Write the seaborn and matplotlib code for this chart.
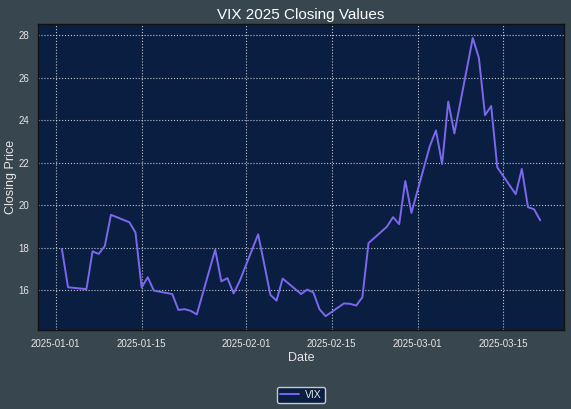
import matplotlib
matplotlib.use("Agg")
import matplotlib.pyplot as plt
import seaborn as sns
import pandas as pd

dates = [
    "2025-01-02", "2025-01-03", "2025-01-06", "2025-01-07", "2025-01-08", "2025-01-09",
    "2025-01-10", "2025-01-13", "2025-01-14", "2025-01-15", "2025-01-16", "2025-01-17",
    "2025-01-20", "2025-01-21", "2025-01-22", "2025-01-23", "2025-01-24", "2025-01-27",
    "2025-01-28", "2025-01-29", "2025-01-30", "2025-01-31", "2025-02-03", "2025-02-04",
    "2025-02-05", "2025-02-06", "2025-02-07", "2025-02-10", "2025-02-11", "2025-02-12",
    "2025-02-13", "2025-02-14", "2025-02-17", "2025-02-18", "2025-02-19", "2025-02-20",
    "2025-02-21", "2025-02-24", "2025-02-25", "2025-02-26", "2025-02-27", "2025-02-28",
    "2025-03-03", "2025-03-04", "2025-03-05", "2025-03-06", "2025-03-07", "2025-03-10",
    "2025-03-11", "2025-03-12", "2025-03-13", "2025-03-14", "2025-03-17", "2025-03-18",
    "2025-03-19", "2025-03-20", "2025-03-21",
]
closes = [
    17.93, 16.13, 16.04, 17.82, 17.70, 18.07,
    19.54, 19.19, 18.71, 16.12, 16.60, 15.97,
    15.81, 15.06, 15.10, 15.02, 14.85, 17.90,
    16.41, 16.56, 15.84, 16.43, 18.62, 17.21,
    15.77, 15.50, 16.54, 15.81, 16.02, 15.89,
    15.10, 14.77, 15.37, 15.35, 15.27, 15.66,
    18.21, 18.98, 19.43, 19.10, 21.13, 19.63,
    22.78, 23.51, 21.93, 24.87, 23.37, 27.86,
    26.92, 24.23, 24.66, 21.77, 20.51, 21.70,
    19.90, 19.80, 19.28,
]
tick_dates = ["2025-01-01", "2025-01-15", "2025-02-01", "2025-02-15", "2025-03-01", "2025-03-15"]

df = pd.DataFrame({"Date": pd.to_datetime(dates), "Close": closes})

FIG_BG = "#38464f"
AX_BG = "#0a1e42"
TXT = "#e6e6e6"

sns.set_theme(style="darkgrid")
plt.rcParams["font.family"] = ["Liberation Sans", "DejaVu Sans"]

fig = plt.figure(figsize=(5.71, 4.09), dpi=100, facecolor=FIG_BG)
ax = fig.add_axes([0.0665, 0.193, 0.9215, 0.748])
ax.set_facecolor(AX_BG)

sns.lineplot(data=df, x="Date", y="Close", ax=ax, color="#7b68ee", linewidth=1.4, label="VIX")

ax.grid(True, color="white", linestyle=":", linewidth=0.8, alpha=0.75)
for s in ax.spines.values():
    s.set_visible(True)
    s.set_color("#111111")
    s.set_linewidth(1.0)

ax.set_xticks(pd.to_datetime(tick_dates))
ax.set_xticklabels(tick_dates)
ax.set_yticks([16, 18, 20, 22, 24, 26, 28])
ax.tick_params(axis="both", colors=TXT, labelsize=7, length=3, width=0.8, labelcolor=TXT)

ax.set_title("VIX 2025 Closing Values", color="white", fontsize=11, pad=4)
ax.set_xlabel("Date", color=TXT, fontsize=9, labelpad=2)
ax.set_ylabel("Closing Price", color=TXT, fontsize=9, labelpad=1)

leg = ax.legend(loc="center", bbox_to_anchor=(0.5, -0.212), fontsize=7.5, frameon=True,
                facecolor=AX_BG, edgecolor="#c8c8c8", framealpha=1.0,
                handlelength=1.8, handletextpad=0.6, borderpad=0.3)
for t in leg.get_texts():
    t.set_color(TXT)

fig.savefig("out.png", dpi=100, facecolor=FIG_BG)
